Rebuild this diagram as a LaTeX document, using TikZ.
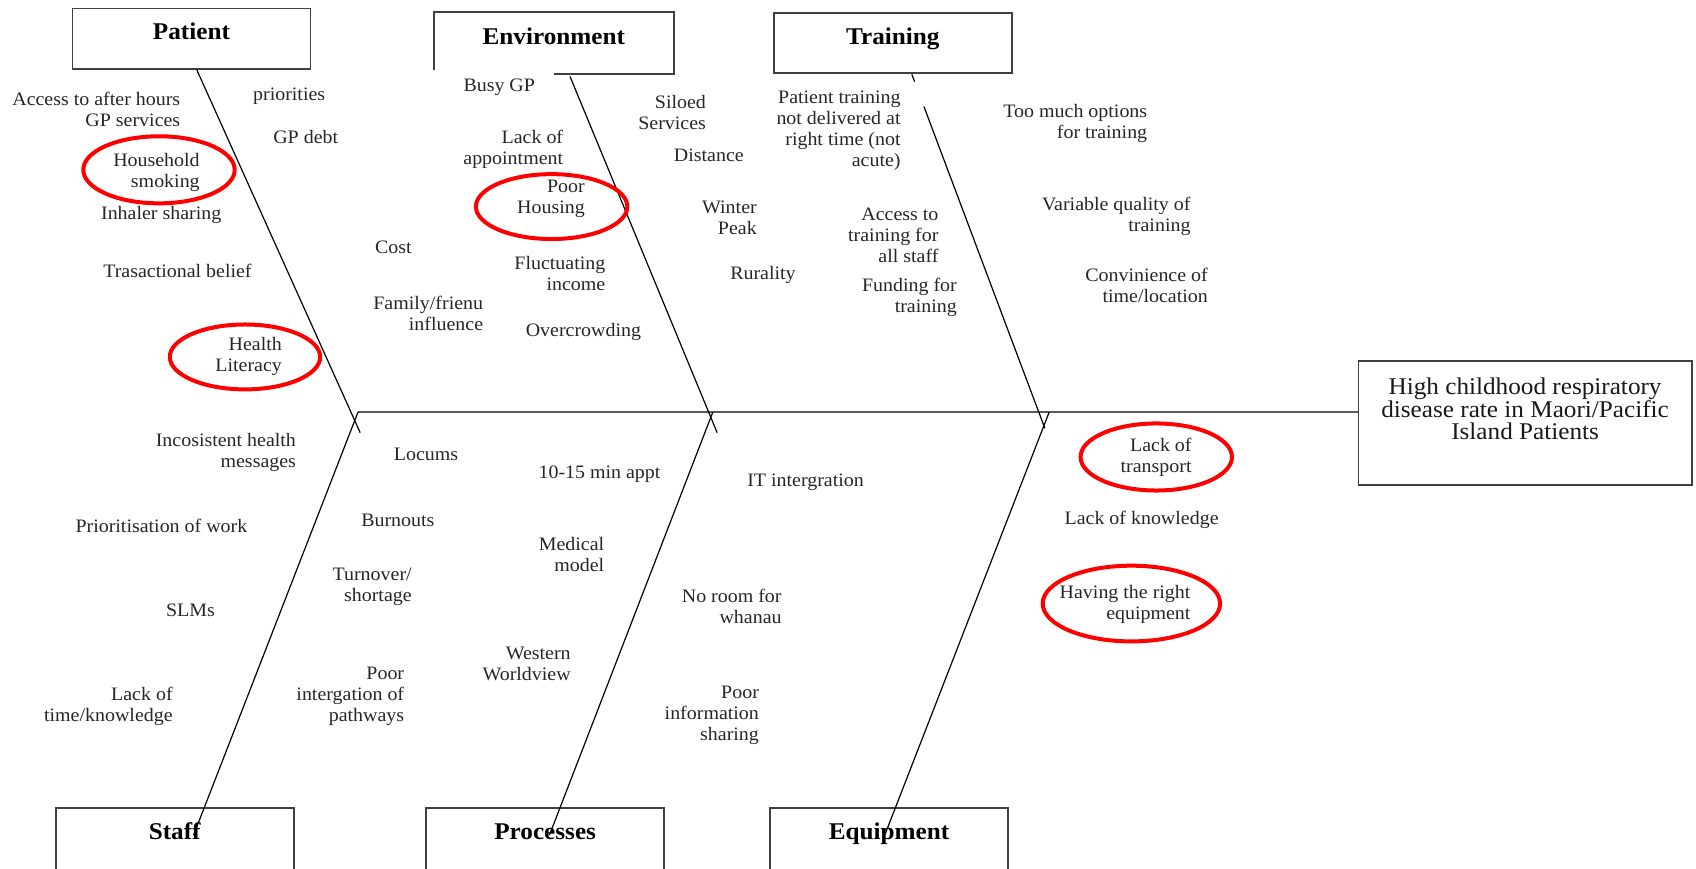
\documentclass[tikz,border=0pt]{standalone}
\usepackage{fontspec}
\setmainfont{Liberation Serif}[FakeStretch=1.05]
\usetikzlibrary{calc, positioning}

\tikzset{
  titlebox/.style={draw=black!75, line width=0.9pt, anchor=north,
    minimum width=119pt, minimum height=30.3pt, text height=9pt, text depth=8pt,
    font=\bfseries\fontsize{12}{14}\selectfont},
  footbox/.style={titlebox, minimum height=36pt, text depth=13.7pt},
  effectbox/.style={draw=black!75, line width=0.9pt, minimum width=166.6pt, minimum height=61.7pt},
  effecttext/.style={inner sep=0pt, align=center, text=black!90, font=\fontsize{12}{11.2}\selectfont},
  cause/.style={inner sep=0pt, anchor=east, align=right, text=black!85,
    font=\fontsize{9.5}{10.5}\selectfont},
  spine/.style={draw=black!65, line width=1.1pt},
  bone/.style={draw=black, line width=0.6pt},
  circled/.style={draw=red, line width=2pt}
}

\begin{document}
\begin{tikzpicture}[x=0.5408pt, y=-0.5408pt]
\useasboundingbox (0,0) rectangle (1568,803);

% Category boxes
\node[titlebox] (patient) at (177,7) {Patient};
\node[titlebox, draw=none] (env) at (512,11) {Environment};
\draw[titlebox] ($(env.south west)+(111,0)$) -| (env.north east) -| ($(env.south west)+(0,-4)$);
\node[titlebox] (training) at (825.5,11) {Training};
\node[footbox] (staff) at (161.5,746) {Staff};
\node[footbox] (processes) at (504,746) {Processes};
\node[footbox] (equipment) at (822,746) {Equipment};

% Effect
\node[effectbox] (effect) at (1410,391) {};
\node[effecttext, below=8.8pt of effect.north] (efftext) {High childhood respiratory\\disease rate in Maori/Pacific\\Island Patients};

% Spine and bones
\coordinate (jpat) at (331,381);
\coordinate (jenv) at (659,381);
\coordinate (jtrn) at (970,381);
\draw[spine] (jpat) -- (jpat -| effect.west);

\draw[bone] ($(patient.south)+(5,0)$) -- ($(jpat)+(2,19)$);
\draw[bone] ($(env.south)+(15,2)$) -- ($(jenv)+(4,19)$);
\coordinate (tstart) at ($(training.south)+(17.5,0)$);
\coordinate (tend) at ($(jtrn)+(-4,15)$);
\draw[bone] (tstart) -- ($(tstart)!0.021!(tend)$);
\draw[bone] ($(tstart)!0.091!(tend)$) -- (tend);

\draw[bone] (jpat) -- ($(staff.north)+(17.5,26)$);
\draw[bone] (jenv) -- ($(processes.north)+(4,26)$);
\draw[bone] (jtrn) -- ($(equipment.north)+(-4,26)$);

% Patient
\node[cause] (afterhours) at (167,101) {Access to after hours\\GP services};
\node[cause] (priorities) at (301,89) {priorities};
\node[cause] (gpdebt) at (313,127) {GP debt};
\node[cause] (smoking) at (185,159.5) {Household\\smoking};
\node[cause] (inhaler) at (205,199) {Inhaler sharing};
\node[cause] (belief) at (233,250) {Trasactional belief};
\node[cause] (literacy) at (261,330) {Health\\Literacy};

% Environment
\node[cause] (cost) at (381,229) {Cost};
\node[cause] (family) at (447,289.5) {Family/frienu\\influence};
\node[cause] (busygp) at (495,81) {Busy GP};
\node[cause] (appointment) at (521,138.5) {Lack of\\appointment};
\node[cause] (housing) at (541,184) {Poor\\Housing};
\node[cause] (income) at (560,252.5) {Fluctuating\\income};
\node[cause] (crowding) at (593,307) {Overcrowding};
\node[cause] (siloed) at (653,104) {Siloed\\Services};
\node[cause] (distance) at (688,144) {Distance};
\node[cause] (winter) at (700,201.5) {Winter\\Peak};
\node[cause] (rurality) at (736,254) {Rurality};

% Training
\node[cause] (pttraining) at (833,121) {Patient training\\not delivered at\\right time (not\\acute)};
\node[cause] (stafftraining) at (868,218) {Access to\\training for\\all staff};
\node[cause] (funding) at (885,274.5) {Funding for\\training};
\node[cause] (options) at (1061,114) {Too much options\\for training};
\node[cause] (quality) at (1101,200) {Variable quality of\\training};
\node[cause] (location) at (1117,264) {Convinience of\\time/location};

% Staff
\node[cause] (messages) at (274,418) {Incosistent health\\messages};
\node[cause] (workload) at (229,486) {Prioritisation of work};
\node[cause] (slms) at (199,564) {SLMs};
\node[cause] (timeknow) at (160,653.5) {Lack of\\time/knowledge};
\node[cause] (locums) at (424,420) {Locums};
\node[cause] (burnouts) at (402,481) {Burnouts};
\node[cause] (turnover) at (381,542.5) {Turnover/\\shortage};
\node[cause] (pathways) at (374,644) {Poor\\intergation of\\pathways};

% Processes
\node[cause] (appt) at (611,438) {10-15 min appt};
\node[cause] (medical) at (559,512.5) {Medical\\model};
\node[cause] (western) at (528,614) {Western\\Worldview};
\node[cause] (itint) at (799,446) {IT intergration};
\node[cause] (whanau) at (723,560.5) {No room for\\whanau};
\node[cause] (infoshare) at (702,661) {Poor\\information\\sharing};

% Equipment
\node[cause] (transport) at (1102,422.5) {Lack of\\transport};
\node[cause] (knowledge) at (1127,481) {Lack of knowledge};
\node[cause] (rightequip) at (1101,558.5) {Having the right\\equipment};

% Highlighted causes
\foreach \cx/\cy/\rx/\ry in {147/157/70/31, 226.5/330/69.5/30, 510/191/70/30, 1069/422.5/70/31, 1046/558/82/35}
  \draw[circled] (\cx,\cy) ellipse [x radius=\rx, y radius=\ry];

\end{tikzpicture}
\end{document}
